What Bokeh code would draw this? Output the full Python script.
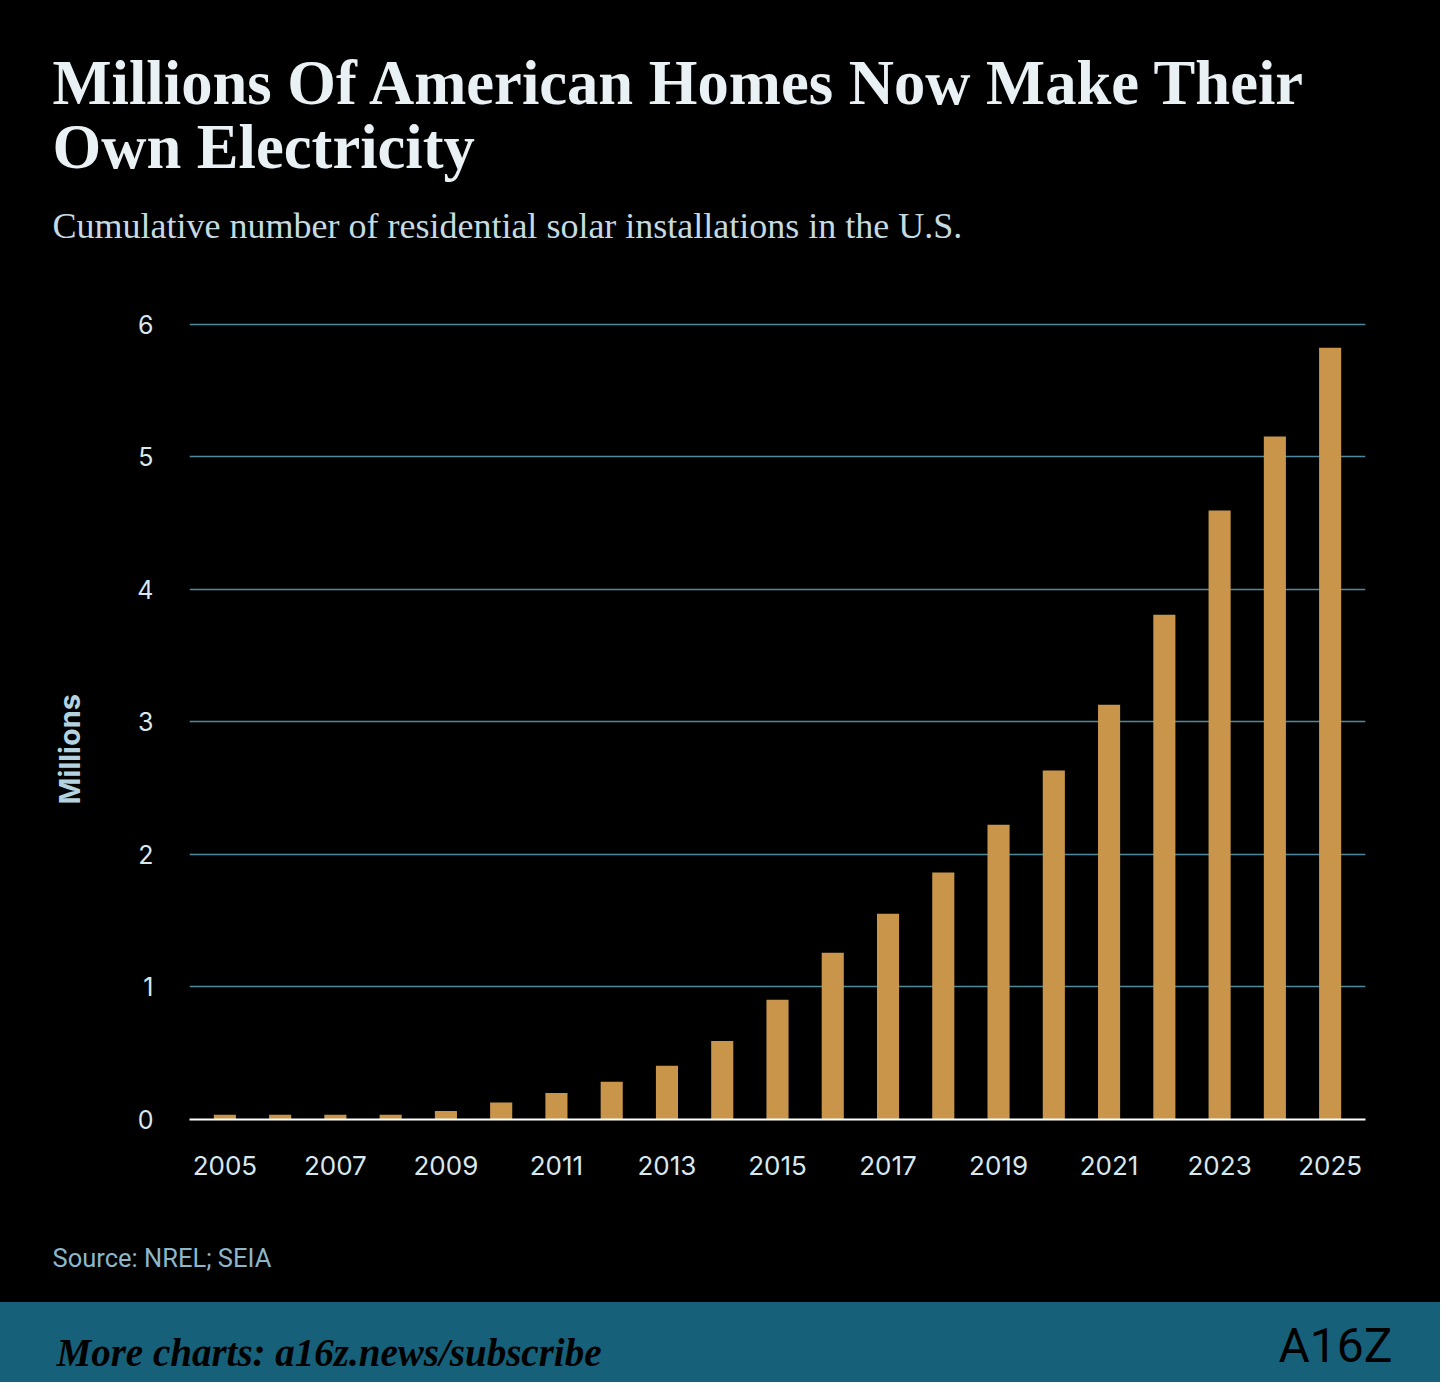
import math
from bokeh.plotting import figure
from bokeh.models import Range1d, FixedTicker, Title
from bokeh.embed import file_html
from bokeh.resources import INLINE

# ---------------- data ----------------
years = [2005, 2006, 2007, 2008, 2009, 2010, 2011, 2012, 2013, 2014, 2015,
         2016, 2017, 2018, 2019, 2020, 2021, 2022, 2023, 2024, 2025]
installs_millions = [0.035, 0.035, 0.035, 0.035, 0.064, 0.128, 0.200, 0.284,
                     0.405, 0.592, 0.903, 1.258, 1.552, 1.864, 2.224, 2.632,
                     3.128, 3.807, 4.594, 5.153, 5.822]
x_tick_years = [2005, 2007, 2009, 2011, 2013, 2015, 2017, 2019, 2021, 2023, 2025]
y_tick_values = [0, 1, 2, 3, 4, 5, 6]

title_line1 = "Millions Of American Homes Now Make Their"
title_line2 = "Own Electricity"
subtitle = "Cumulative number of residential solar installations in the U.S."
y_label = "Millions"
source_text = "Source: NREL; SEIA"
footer_text = "More charts: a16z.news/subscribe"
logo_text = "A16Z"

# ---------------- style ----------------
BG = "#000000"
BAR = "#C8954A"
GRID = "#4E8A9E"
TITLE_C = "#EAF1F5"
SUB_C = "#C6DAE2"
TICK_C = "#D9E7EE"
YLAB_C = "#B5D3DE"
SRC_C = "#8DB7C9"
FOOT_BG = "#176079"

W, H = 1440, 1382
FOOT_TOP = 1302
FL, FR, FT, FBB = 189, 75, 268, 263

page_bg = ("linear-gradient(to bottom, %s 0px, %s %dpx, %s %dpx, %s 100%%)"
           % (BG, BG, FOOT_TOP, FOOT_BG, FOOT_TOP, FOOT_BG))

p = figure(width=W, height=H, output_backend="svg", toolbar_location=None,
           title=None,
           x_range=Range1d(2004.36, 2025.64), y_range=Range1d(0, 6.42),
           min_border_left=FL, min_border_right=FR, min_border_top=FT,
           min_border_bottom=FBB,
           background_fill_color=BG, border_fill_color=None,
           outline_line_color=None,
           styles={"background": page_bg})

p.vbar(x=years, top=installs_millions, width=0.4, color=BAR, line_color=None)

# axes
p.xaxis.ticker = FixedTicker(ticks=x_tick_years)
p.xaxis.major_label_text_font = "Inter"
p.xaxis.major_label_text_font_size = "26px"
p.xaxis.major_label_text_color = TICK_C
p.xaxis.axis_line_color = "#FFFFFF"
p.xaxis.axis_line_width = 2
p.xaxis.major_tick_line_color = None
p.xaxis.minor_tick_line_color = None
p.xaxis.major_label_standoff = 30

p.yaxis.ticker = FixedTicker(ticks=y_tick_values)
p.yaxis.major_label_text_font = "Inter"
p.yaxis.major_label_text_font_size = "25px"
p.yaxis.major_label_text_color = TICK_C
p.yaxis.axis_line_color = None
p.yaxis.major_tick_line_color = None
p.yaxis.minor_tick_line_color = None
p.yaxis.major_label_standoff = 30

p.xgrid.grid_line_color = None
p.ygrid.grid_line_color = GRID
p.ygrid.grid_line_width = 1.6

# ---------------- header (stacked from the frame upward) ----------------
p.add_layout(Title(text=subtitle, text_font="Liberation Serif",
                   text_font_style="normal", text_font_size="36px",
                   text_color=SUB_C, align="left", offset=-137,
                   standoff=44.1), "above")
p.add_layout(Title(text=title_line2, text_font="Liberation Serif",
                   text_font_style="bold", text_font_size="62.6px",
                   text_color=TITLE_C, align="left", offset=-137,
                   standoff=1.2), "above")
p.add_layout(Title(text=title_line1, text_font="Liberation Serif",
                   text_font_style="bold", text_font_size="62.6px",
                   text_color=TITLE_C, align="left", offset=-137,
                   standoff=-16.6), "above")

# ---------------- y label ----------------
p.add_layout(Title(text=y_label, text_font="Inter", text_font_style="bold",
                   text_font_size="29px", text_color=YLAB_C, align="left",
                   offset=315, standoff=95.5), "left")

# ---------------- bottom: source + footer ----------------
p.add_layout(Title(text=source_text, text_font="Roboto",
                   text_font_style="normal", text_font_size="25.5px",
                   text_color=SRC_C, align="left", offset=-137,
                   standoff=126.7), "below")
p.add_layout(Title(text=logo_text, text_font="Roboto",
                   text_font_style="normal", text_font_size="48px",
                   text_color="#000000", align="right", offset=-27,
                   standoff=-44.2), "below")
p.add_layout(Title(text=footer_text, text_font="Liberation Serif",
                   text_font_style="bold italic", text_font_size="39px",
                   text_color="#000000", align="left", offset=-133,
                   standoff=-45.7), "below")

open("out.html", "w").write(file_html(p, INLINE))
